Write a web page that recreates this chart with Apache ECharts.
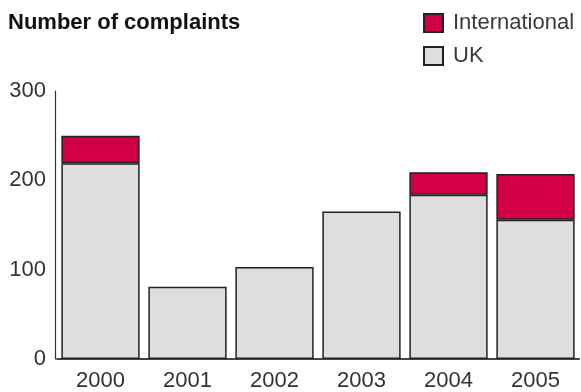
<!DOCTYPE html>
<html>
<head>
<meta charset="utf-8">
<script src="https://cdn.jsdelivr.net/npm/echarts@6/dist/echarts.min.js"></script>
<style>
  html, body { margin: 0; padding: 0; background: #fff; }
  #chart { width: 581px; height: 392px; }
</style>
</head>
<body>
<div id="chart"></div>
<script>
// Complaints per year, split into UK and international
const years = ['2000', '2001', '2002', '2003', '2004', '2005'];
const ukValues = [219, 81, 103, 165, 184, 156];
const internationalValues = [31, null, null, null, 25, 51];
const yTicks = { min: 0, max: 300, interval: 100 };

const FONT = '"Liberation Sans", Arial, sans-serif';
const EDGE = '#222';

const chart = echarts.init(document.getElementById('chart'), null, { renderer: 'canvas' });

chart.setOption({
  animation: false,
  textStyle: { fontFamily: FONT },
  title: {
    text: 'Number of complaints',
    left: 8,
    top: 12,
    padding: 0,
    textStyle: { fontSize: 22, fontWeight: 'bold', color: '#111', fontFamily: FONT }
  },
  legend: {
    data: ['International', 'UK'],
    orient: 'vertical',
    left: 423,
    top: 12,
    padding: 0,
    icon: 'rect',
    itemWidth: 19,
    itemHeight: 18,
    itemGap: 11,
    textStyle: { fontSize: 22, color: '#3a3a3a', fontFamily: FONT, padding: [0, 0, 0, 5] }
  },
  grid: { left: 57, right: 2, top: 91, bottom: 30, containLabel: false },
  xAxis: {
    type: 'category',
    data: years,
    axisLine: { lineStyle: { color: '#444', width: 2 } },
    axisTick: { show: false },
    axisLabel: { fontSize: 22, color: '#333', margin: 11, fontFamily: FONT }
  },
  yAxis: {
    type: 'value',
    min: yTicks.min,
    max: yTicks.max,
    interval: yTicks.interval,
    offset: 2,
    splitLine: { show: false },
    axisLine: { show: true, lineStyle: { color: '#333', width: 1.2 } },
    axisTick: { show: false },
    axisLabel: { fontSize: 22, color: '#333', margin: 9, fontFamily: FONT }
  },
  series: [
    {
      name: 'UK',
      type: 'bar',
      stack: 'total',
      data: ukValues,
      barCategoryGap: '10%',
      itemStyle: { color: '#dedede', borderColor: EDGE, borderWidth: 1.5 }
    },
    {
      name: 'International',
      type: 'bar',
      stack: 'total',
      data: internationalValues,
      barCategoryGap: '10%',
      itemStyle: { color: '#d10044', borderColor: EDGE, borderWidth: 1.5 }
    }
  ]
});
</script>
</body>
</html>
